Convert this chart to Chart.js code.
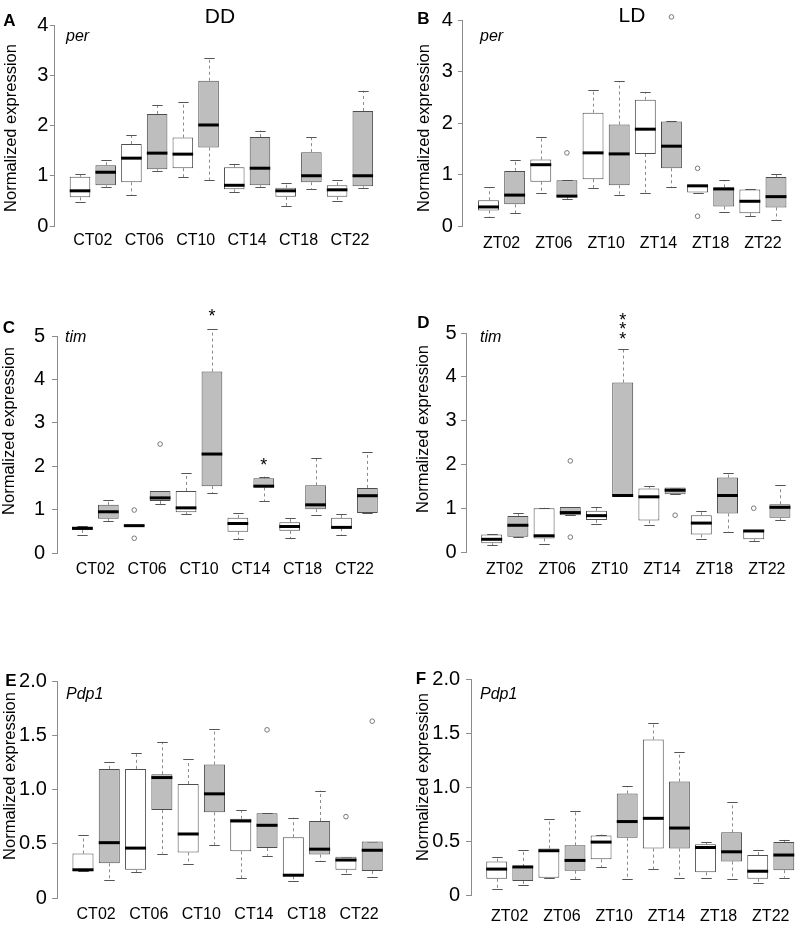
<!DOCTYPE html>
<html>
<head>
<meta charset="utf-8">
<script src="https://cdn.jsdelivr.net/npm/chart.js@4.4.0/dist/chart.umd.min.js"></script>
<style>
  html, body { margin: 0; padding: 0; background: #fff; overflow: hidden; }
  body { width: 795px; height: 926px; position: relative; }
  .panel { position: absolute; }
</style>
</head>
<body>
<script>
const FONT = '"Liberation Sans", Arial, sans-serif';

const ctLabels = ['CT02', 'CT06', 'CT10', 'CT14', 'CT18', 'CT22'];
const ztLabels = ['ZT02', 'ZT06', 'ZT10', 'ZT14', 'ZT18', 'ZT22'];

// A: per, DD  (12 boxes: white / grey alternating per time point)
const perDD_lo  = [0.48, 0.78, 0.62, 1.10, 0.97, 0.92, 0.68, 0.78, 0.40, 0.73, 0.49, 0.76];
const perDD_q1  = [0.57, 0.81, 0.87, 1.13, 1.15, 1.56, 0.73, 0.81, 0.58, 0.87, 0.58, 0.79];
const perDD_med = [0.70, 1.07, 1.35, 1.45, 1.43, 2.01, 0.81, 1.15, 0.70, 1.00, 0.72, 1.00];
const perDD_q3  = [0.98, 1.21, 1.63, 2.23, 1.76, 2.89, 1.17, 1.77, 0.76, 1.47, 0.81, 2.29];
const perDD_hi  = [1.03, 1.32, 1.82, 2.41, 2.46, 3.34, 1.23, 1.90, 0.85, 1.78, 0.91, 2.69];
const perDD_out = [];

// B: per, LD
const perLD_lo  = [0.17, 0.25, 0.65, 0.52, 0.74, 0.61, 0.65, 0.76, 0.65, 0.27, 0.19, 0.12];
const perLD_q1  = [0.30, 0.42, 0.86, 0.56, 0.91, 0.79, 1.40, 1.12, 0.65, 0.38, 0.25, 0.36];
const perLD_med = [0.37, 0.60, 1.19, 0.58, 1.42, 1.40, 1.88, 1.55, 0.78, 0.72, 0.48, 0.57];
const perLD_q3  = [0.50, 1.07, 1.29, 0.89, 2.20, 1.97, 2.45, 2.03, 0.79, 0.75, 0.71, 0.95];
const perLD_hi  = [0.75, 1.29, 1.72, 0.89, 2.65, 2.81, 2.60, 2.03, 0.79, 0.89, 0.71, 1.01];
const perLD_out = [[4, 1.42], [8, 4.06], [9, 1.12], [9, 0.19]];

// C: tim, DD
const timDD_lo  = [0.41, 0.74, 0.62, 1.12, 0.90, 1.38, 0.32, 1.19, 0.34, 0.87, 0.42, 0.92];
const timDD_q1  = [0.53, 0.79, 0.62, 1.20, 0.94, 1.54, 0.49, 1.51, 0.51, 1.01, 0.57, 0.92];
const timDD_med = [0.57, 0.95, 0.63, 1.27, 1.04, 2.28, 0.68, 1.54, 0.61, 1.11, 0.59, 1.32];
const timDD_q3  = [0.60, 1.11, 0.65, 1.43, 1.43, 4.18, 0.81, 1.72, 0.71, 1.56, 0.81, 1.50];
const timDD_hi  = [0.62, 1.21, 0.65, 1.43, 1.84, 5.15, 0.92, 1.76, 0.81, 2.18, 0.90, 2.33];
const timDD_out = [[3, 0.99], [3, 0.34], [4, 2.51]];
const timDD_stars = [[6, 5.56], [8, 2.13]];

// D: tim, LD
const timLD_lo  = [0.15, 0.34, 0.18, 0.84, 0.65, 1.27, 0.61, 1.32, 0.29, 0.46, 0.25, 0.73];
const timLD_q1  = [0.20, 0.35, 0.31, 0.84, 0.73, 1.27, 0.72, 1.32, 0.40, 0.88, 0.29, 0.78];
const timLD_med = [0.29, 0.61, 0.37, 0.90, 0.83, 1.29, 1.26, 1.41, 0.66, 1.29, 0.48, 1.02];
const timLD_q3  = [0.40, 0.82, 1.00, 1.03, 0.94, 3.87, 1.45, 1.47, 0.84, 1.70, 0.50, 1.09];
const timLD_hi  = [0.41, 0.88, 1.01, 1.03, 1.03, 4.64, 1.50, 1.47, 0.94, 1.80, 0.50, 1.52];
const timLD_out = [[4, 2.08], [4, 0.34], [8, 0.84], [11, 1.00]];
const timLD_stars = [[6, 5.39], [6, 5.18], [6, 4.97]];

// E: Pdp1, DD
const pdpDD_lo  = [0.25, 0.17, 0.24, 0.41, 0.31, 0.49, 0.18, 0.39, 0.16, 0.34, 0.22, 0.19];
const pdpDD_q1  = [0.25, 0.32, 0.26, 0.81, 0.42, 0.79, 0.43, 0.46, 0.20, 0.40, 0.26, 0.25];
const pdpDD_med = [0.26, 0.51, 0.46, 1.11, 0.59, 0.96, 0.71, 0.67, 0.21, 0.45, 0.35, 0.44];
const pdpDD_q3  = [0.41, 1.19, 1.19, 1.14, 1.05, 1.23, 0.73, 0.78, 0.56, 0.71, 0.38, 0.52];
const pdpDD_hi  = [0.58, 1.25, 1.34, 1.44, 1.28, 1.56, 0.81, 0.78, 0.74, 0.99, 0.38, 0.52];
const pdpDD_out = [[8, 1.55], [11, 0.75], [12, 1.63]];

// F: Pdp1, LD
const pdpLD_lo  = [0.06, 0.09, 0.16, 0.15, 0.26, 0.15, 0.24, 0.16, 0.16, 0.15, 0.11, 0.16];
const pdpLD_q1  = [0.15, 0.13, 0.16, 0.225, 0.33, 0.53, 0.43, 0.43, 0.21, 0.31, 0.15, 0.23];
const pdpLD_med = [0.24, 0.26, 0.41, 0.32, 0.49, 0.68, 0.71, 0.62, 0.44, 0.40, 0.22, 0.37];
const pdpLD_q3  = [0.31, 0.26, 0.43, 0.46, 0.55, 0.94, 1.44, 1.05, 0.47, 0.58, 0.37, 0.49];
const pdpLD_hi  = [0.35, 0.42, 0.70, 0.78, 0.56, 1.01, 1.59, 1.32, 0.49, 0.86, 0.42, 0.51];
const pdpLD_out = [];

// page layout of each panel (container + plot area in page pixels)
const panels = [
  { id: 'A', labels: ctLabels, lo: perDD_lo, q1: perDD_q1, med: perDD_med, q3: perDD_q3, hi: perDD_hi, out: perDD_out, stars: [],
    left: 0, top: 0, w: 400, h: 262, area: { l: 54.8, r: 388, t: 25, b: 226 }, yMax: 4, yStep: 1, xPad: 5.4, yPad: 1.5,
    gene: ['per', 66, 37], cond: ['DD', 220, 17.5], letter: [9.5, 21.5], ytitle: [11, 128] },
  { id: 'B', labels: ztLabels, lo: perLD_lo, q1: perLD_q1, med: perLD_med, q3: perLD_q3, hi: perLD_hi, out: perLD_out, stars: [],
    left: 397, top: 0, w: 420, h: 262, area: { l: 462.9, r: 801.6, t: 20, b: 226 }, yMax: 4, yStep: 1, xPad: 8.4, yPad: 5,
    gene: ['per', 480, 37], cond: ['LD', 632, 16], letter: [423.5, 19], ytitle: [424.5, 128] },
  { id: 'C', labels: ctLabels, lo: timDD_lo, q1: timDD_q1, med: timDD_med, q3: timDD_q3, hi: timDD_hi, out: timDD_out, stars: timDD_stars,
    left: 0, top: 290, w: 400, h: 300, area: { l: 57, r: 392.8, t: 336, b: 553 }, yMax: 5, yStep: 1, xPad: 7.4, yPad: 7,
    gene: ['tim', 65, 338], cond: null, letter: [9, 328], ytitle: [9, 431] },
  { id: 'D', labels: ztLabels, lo: timLD_lo, q1: timLD_q1, med: timLD_med, q3: timLD_q3, hi: timLD_hi, out: timLD_out, stars: timLD_stars,
    left: 397, top: 290, w: 420, h: 300, area: { l: 466, r: 805.6, t: 333, b: 552 }, yMax: 5, yStep: 1, xPad: 8.4, yPad: 4.3,
    gene: ['tim', 480, 338], cond: null, letter: [423.5, 323.5], ytitle: [423, 429] },
  { id: 'E', labels: ctLabels, lo: pdpDD_lo, q1: pdpDD_q1, med: pdpDD_med, q3: pdpDD_q3, hi: pdpDD_hi, out: pdpDD_out, stars: [],
    left: 0, top: 640, w: 405, h: 286, area: { l: 57.2, r: 398, t: 681, b: 898 }, yMax: 2, yStep: 0.5, xPad: 7.4, yPad: 5.3,
    gene: ['Pdp1', 66, 695], cond: null, letter: [11, 681], ytitle: [10, 776] },
  { id: 'F', labels: ztLabels, lo: pdpLD_lo, q1: pdpLD_q1, med: pdpLD_med, q3: pdpLD_q3, hi: pdpLD_hi, out: pdpLD_out, stars: [],
    left: 400, top: 640, w: 420, h: 286, area: { l: 471.1, r: 809.4, t: 679, b: 895 }, yMax: 2, yStep: 0.5, xPad: 12.4, yPad: 6,
    gene: ['Pdp1', 480, 695], cond: null, letter: [421, 679], ytitle: [423, 777] }
];

function boxPlugin(p) {
  return {
    id: 'box' + p.id,
    beforeDatasetsDraw(chart) {
      const { ctx } = chart;
      const x = chart.scales.x, y = chart.scales.y;
      const bars = chart.getDatasetMeta(0).data;
      ctx.save();
      ctx.lineWidth = 1;
      p.med.forEach((_, i) => {
        const px = Math.round(x.getPixelForValue(i + 1)) + 0.5;
        const cap = bars[i].width / 4;
        ctx.strokeStyle = '#8a8a8a';
        ctx.setLineDash([3, 3]);
        ctx.beginPath();
        ctx.moveTo(px, y.getPixelForValue(p.q3[i]));
        ctx.lineTo(px, y.getPixelForValue(p.hi[i]));
        ctx.moveTo(px, y.getPixelForValue(p.q1[i]));
        ctx.lineTo(px, y.getPixelForValue(p.lo[i]));
        ctx.stroke();
        ctx.setLineDash([]);
        ctx.strokeStyle = '#555';
        ctx.beginPath();
        [p.hi[i], p.lo[i]].forEach(v => {
          const py = Math.round(y.getPixelForValue(v)) + 0.5;
          ctx.moveTo(px - cap, py);
          ctx.lineTo(px + cap, py);
        });
        ctx.stroke();
      });
      ctx.restore();
    },
    afterDatasetsDraw(chart) {
      const { ctx } = chart;
      const x = chart.scales.x, y = chart.scales.y;
      const bars = chart.getDatasetMeta(0).data;
      ctx.save();
      // medians
      ctx.strokeStyle = '#000';
      ctx.lineWidth = 3;
      p.med.forEach((v, i) => {
        const px = x.getPixelForValue(i + 1);
        const half = bars[i].width / 2;
        const py = y.getPixelForValue(v);
        ctx.beginPath();
        ctx.moveTo(px - half, py);
        ctx.lineTo(px + half, py);
        ctx.stroke();
      });
      // significance stars
      ctx.fillStyle = '#000';
      ctx.textAlign = 'center';
      ctx.textBaseline = 'alphabetic';
      ctx.font = '18px ' + FONT;
      p.stars.forEach(s => {
        ctx.fillText('*', x.getPixelForValue(s[0]), y.getPixelForValue(s[1]) + 0.57 * 18);
      });
      // panel texts (page coords -> canvas coords)
      const cx = v => v - p.left, cy = v => v - p.top;
      ctx.textBaseline = 'middle';
      ctx.font = 'bold 17px ' + FONT;
      ctx.fillText(p.id, cx(p.letter[0]), cy(p.letter[1]));
      if (p.cond) {
        ctx.font = '21px ' + FONT;
        ctx.fillText(p.cond[0], cx(p.cond[1]), cy(p.cond[2]));
      }
      ctx.textAlign = 'left';
      ctx.font = 'italic 16px ' + FONT;
      ctx.fillText(p.gene[0], cx(p.gene[1]), cy(p.gene[2]));
      ctx.save();
      ctx.translate(cx(p.ytitle[0]), cy(p.ytitle[1]));
      ctx.rotate(-Math.PI / 2);
      ctx.textAlign = 'center';
      ctx.font = '16.5px ' + FONT;
      ctx.fillText('Normalized expression', 0, 0);
      ctx.restore();
      ctx.restore();
    }
  };
}

panels.forEach(p => {
  const div = document.createElement('div');
  div.className = 'panel';
  div.style.left = p.left + 'px';
  div.style.top = p.top + 'px';
  const canvas = document.createElement('canvas');
  canvas.width = p.w;
  canvas.height = p.h;
  canvas.style.width = p.w + 'px';
  canvas.style.height = p.h + 'px';
  div.appendChild(canvas);
  document.body.appendChild(div);

  new Chart(canvas, {
    type: 'bar',
    data: {
      datasets: [
        {
          type: 'bar',
          data: p.q1.map((v, i) => ({ x: i + 1, y: [v, p.q3[i]] })),
          backgroundColor: p.q1.map((_, i) => (i % 2 ? '#bebebe' : '#ffffff')),
          borderColor: '#4d4d4d',
          borderWidth: 1,
          borderSkipped: false,
          barPercentage: 0.8,
          categoryPercentage: 1,
          grouped: false
        },
        {
          type: 'scatter',
          data: p.out.map(o => ({ x: o[0], y: o[1] })),
          pointStyle: 'circle',
          pointRadius: 2.3,
          borderColor: '#777',
          backgroundColor: 'rgba(0,0,0,0)',
          borderWidth: 1,
          clip: false
        }
      ]
    },
    options: {
      responsive: false,
      animation: false,
      layout: { padding: { left: 0, top: p.area.t - p.top, right: p.left + p.w - p.area.r, bottom: 0 } },
      plugins: { legend: { display: false }, tooltip: { enabled: false } },
      scales: {
        x: {
          type: 'linear',
          min: 0.02,
          max: 12.98,
          offset: false,
          grid: { display: false, drawTicks: false },
          border: { display: false },
          afterBuildTicks: s => { s.ticks = p.labels.map((_, i) => ({ value: 2 * i + 1.5 })); },
          afterFit: s => { s.height = p.top + p.h - p.area.b; },
          ticks: {
            autoSkip: false,
            maxRotation: 0,
            padding: p.xPad,
            color: '#000',
            font: { family: FONT, size: 16 },
            callback: (v, i) => p.labels[i]
          }
        },
        y: {
          min: 0,
          max: p.yMax,
          grid: { display: true, drawOnChartArea: false, drawTicks: true, tickLength: 5, color: '#8c8c8c' },
          border: { display: true, color: '#8c8c8c', width: 1 },
          afterFit: s => { s.width = p.area.l - p.left; },
          ticks: {
            stepSize: p.yStep,
            padding: p.yPad,
            color: '#000',
            font: { family: FONT, size: 20 },
            callback: v => (p.yStep < 1 ? (v === 0 ? '0' : v.toFixed(1)) : String(v))
          }
        }
      }
    },
    plugins: [boxPlugin(p)]
  });
});
</script>
</body>
</html>
